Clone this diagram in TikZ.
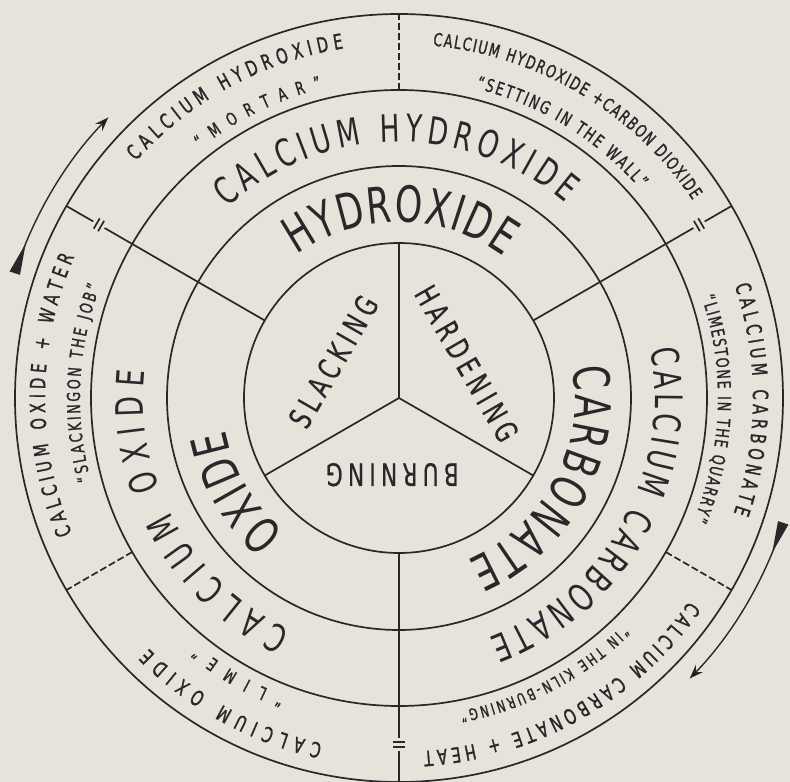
\documentclass[tikz,border=0pt]{standalone}
\usepackage{fontspec}
\usetikzlibrary{arrows.meta,decorations.text}
\newfontfamily\arcfont{DejaVu Sans}[FakeStretch=0.7]
\newfontfamily\thinfont{DejaVu Sans}[FakeStretch=0.7,FakeBold=1.2]
\newfontfamily\labelfont{DejaVu Sans}[FakeStretch=0.7,FakeBold=0.5,LetterSpace=17]
\definecolor{paper}{HTML}{E6E3DA}
\definecolor{ink}{HTML}{2B262A}
\newcommand\sizeA{\arcfont\fontsize{50}{52}\selectfont}
\newcommand\sizeB{\arcfont\fontsize{38}{40}\selectfont}
\newcommand\sizeC{\thinfont\fontsize{21}{23}\selectfont}
\newcommand\sizeD{\thinfont\fontsize{18}{20}\selectfont}
\newcommand\sizeE{\thinfont\fontsize{16}{18}\selectfont}

\begin{document}
\begin{tikzpicture}[x=1bp,y=1bp,
  ring/.style={draw=ink, line width=1.7bp},
  dashdiv/.style={ring, dash pattern=on 7bp off 3bp},
  arctext/.style={decorate, decoration={text along path, text align={fit to path}, text color=ink, text={#1}}},
  inlabel/.style={font=\labelfont\fontsize{31}{31}\selectfont, text=ink, inner sep=0pt},
  cyclearrow/.style={draw=ink, line width=1.4bp, -{Stealth[length=14bp,width=10bp,inset=5bp]}}]
\useasboundingbox (-399,-384) rectangle (391,398);
\fill[paper] (-399,-384) rectangle (391,398);

% rings
\foreach \r in {155,232,308,384}
  \draw[ring] (0,0) circle[radius=\r];
% inner Y
\foreach \a in {90,210,330}
  \draw[ring] (0,0) -- (\a:155);
% main dividers with break marks
\foreach \a in {30,150,270}
  \draw[ring, rotate=\a] (155,0) -- (340,0) (353,0) -- (384,0)
    (344,-6) -- (344,6) (349,-6) -- (349,6);
% dashed dividers in the outer ring
\foreach \a in {90,210,330}
  \draw[dashdiv, rotate=\a] (308,0) -- (384,0);

% inner circle
\node[inlabel, rotate=60] (slacking) at (151:75) {SLACKING};
\node[inlabel, rotate=-60] (hardening) at (27:76) {HARDENING};
\node[inlabel, rotate=180] (burning) at (265:77) {BURNING};

% inner ring
\path[arctext={|\sizeA|HYDROXIDE}] (125.5:176) arc[start angle=125.5, end angle=53.5, radius=176];
\path[arctext={|\sizeA|CARBONATE}] (10:176) arc[start angle=10, end angle=-67, radius=176];
\path[arctext={|\sizeA|OXIDE}] (-130.5:176) arc[start angle=-130.5, end angle=-169.5, radius=176];

% middle ring
\path[arctext={|\sizeB|CALCIUM HYDROXIDE}] (132:256) arc[start angle=132, end angle=49.5, radius=256];
\path[arctext={|\sizeB|CALCIUM CARBONATE}] (11:256) arc[start angle=11, end angle=-69.5, radius=256];
\path[arctext={|\sizeB|CALCIUM OXIDE}] (-115:256) arc[start angle=-115, end angle=-186, radius=256];

% outer ring
\path[arctext={|\sizeC|CALCIUM HYDROXIDE}] (138:354) arc[start angle=138, end angle=99, radius=354];
\path[arctext={|\sizeD|“MORTAR”}] (128.5:319) arc[start angle=128.5, end angle=104, radius=319];
\path[arctext={|\sizeD|CALCIUM HYDROXIDE +CARBON DIOXIDE}] (84.5:354) arc[start angle=84.5, end angle=34, radius=354];
\path[arctext={|\sizeD|“SETTING IN THE WALL”}] (76:319) arc[start angle=76, end angle=41, radius=319];
\path[arctext={|\sizeC|CALCIUM CARBONATE}] (18.5:354) arc[start angle=18.5, end angle=-19, radius=354];
\path[arctext={|\sizeD|“LIMESTONE IN THE QUARRY”}] (18.5:319) arc[start angle=18.5, end angle=-22.5, radius=319];
\path[arctext={|\sizeC|CALCIUM CARBONATE + HEAT}] (-35:354) arc[start angle=-35, end angle=-86, radius=354];
\path[arctext={|\sizeE|“IN THE KILN-BURNING”}] (-45.5:319) arc[start angle=-45.5, end angle=-79, radius=319];
\path[arctext={|\sizeC|CALCIUM OXIDE}] (-102.5:354) arc[start angle=-102.5, end angle=-135, radius=354];
\path[arctext={|\sizeD|“LIME”}] (-111:319) arc[start angle=-111, end angle=-129, radius=319];
\path[arctext={|\sizeC|CALCIUM OXIDE + WATER}] (-157.5:354) arc[start angle=-157.5, end angle=-203.5, radius=354];
\path[arctext={|\sizeD|“SLACKINGON THE JOB”}] (-165:319) arc[start angle=-165, end angle=-200.5, radius=319];

% cycle arrows, tail wedge then shaft
\foreach \a in {162,-18} {
  \fill[ink] (\a:398.5) -- (\a:409.5) -- (\a-4.5:404) -- cycle;
  \draw[cyclearrow] (\a:404) arc[start angle=\a, end angle=\a-26, radius=404];
}
\end{tikzpicture}
\end{document}
